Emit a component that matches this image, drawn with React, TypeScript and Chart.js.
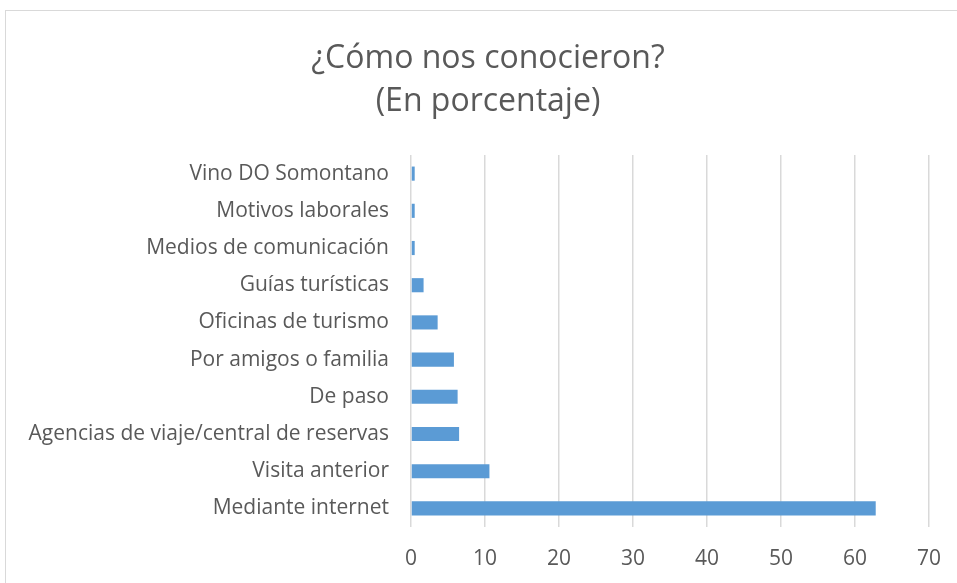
import React, { useEffect, useRef } from "react";
import { Chart, registerables } from "chart.js";

Chart.register(...registerables);

const titleLines = ["¿Cómo nos conocieron?", "(En porcentaje)"];
const categories = [
  "Vino DO Somontano",
  "Motivos laborales",
  "Medios de comunicación",
  "Guías turísticas",
  "Oficinas de turismo",
  "Por amigos o familia",
  "De paso",
  "Agencias de viaje/central de reservas",
  "Visita anterior",
  "Mediante internet",
];
const values = [0.5, 0.5, 0.5, 1.7, 3.6, 5.8, 6.3, 6.5, 10.6, 62.8];
const xMin = 0;
const xMax = 70;
const xStep = 10;

const FONT = "'Open Sans', 'Noto Sans', sans-serif";
const TEXT = "#595959";

export default function App() {
  const ref = useRef<HTMLCanvasElement | null>(null);
  useEffect(() => {
    if (!ref.current) return;
    const chart = new Chart(ref.current, {
      type: "bar",
      data: {
        labels: categories,
        datasets: [
          {
            data: values,
            backgroundColor: "#5b9bd5",
            borderWidth: 0,
            barPercentage: 0.38,
            categoryPercentage: 1,
          },
        ],
      },
      options: {
        indexAxis: "y",
        animation: false,
        responsive: false,
        maintainAspectRatio: false,
        layout: { padding: { top: 26, right: 0, bottom: 12, left: 0 } },
        plugins: {
          legend: { display: false },
          tooltip: { enabled: false },
          title: {
            display: true,
            text: titleLines,
            color: TEXT,
            font: { family: FONT, size: 32, weight: "normal", lineHeight: 1.344 },
            padding: { top: 0, bottom: 32 },
          },
        },
        scales: {
          x: {
            min: xMin,
            max: xMax,
            ticks: {
              stepSize: xStep,
              color: TEXT,
              font: { family: FONT, size: 21 },
              padding: 19,
            },
            grid: {
              color: "#d9d9d9",
              lineWidth: 1.5,
              drawTicks: false,
            },
            border: { display: false },
            afterFit: (s: any) => {
              s.height = 44;
            },
          },
          y: {
            ticks: {
              color: TEXT,
              font: { family: FONT, size: 21 },
              padding: 22,
            },
            grid: { display: false, drawTicks: false },
            border: { display: false },
            afterFit: (s: any) => {
              s.width = 405;
            },
          },
          yRight: {
            type: "linear",
            position: "right",
            display: true,
            ticks: { display: false },
            grid: { display: false, drawTicks: false },
            border: { display: false },
            afterFit: (s: any) => {
              s.width = 41;
            },
          },
        },
      },
    });
    return () => chart.destroy();
  }, []);

  return (
    <div
      style={{
        position: "fixed",
        left: 0,
        top: 0,
        width: 957,
        height: 583,
        overflow: "hidden",
        background: "#fff",
      }}
    >
      <div
        style={{
          position: "absolute",
          left: 5,
          top: 10,
          width: 964,
          height: 600,
          border: "1px solid #d9d9d9",
          background: "#fff",
        }}
      >
        <canvas ref={ref} width={964} height={572} style={{ display: "block" }} />
      </div>
    </div>
  );
}
